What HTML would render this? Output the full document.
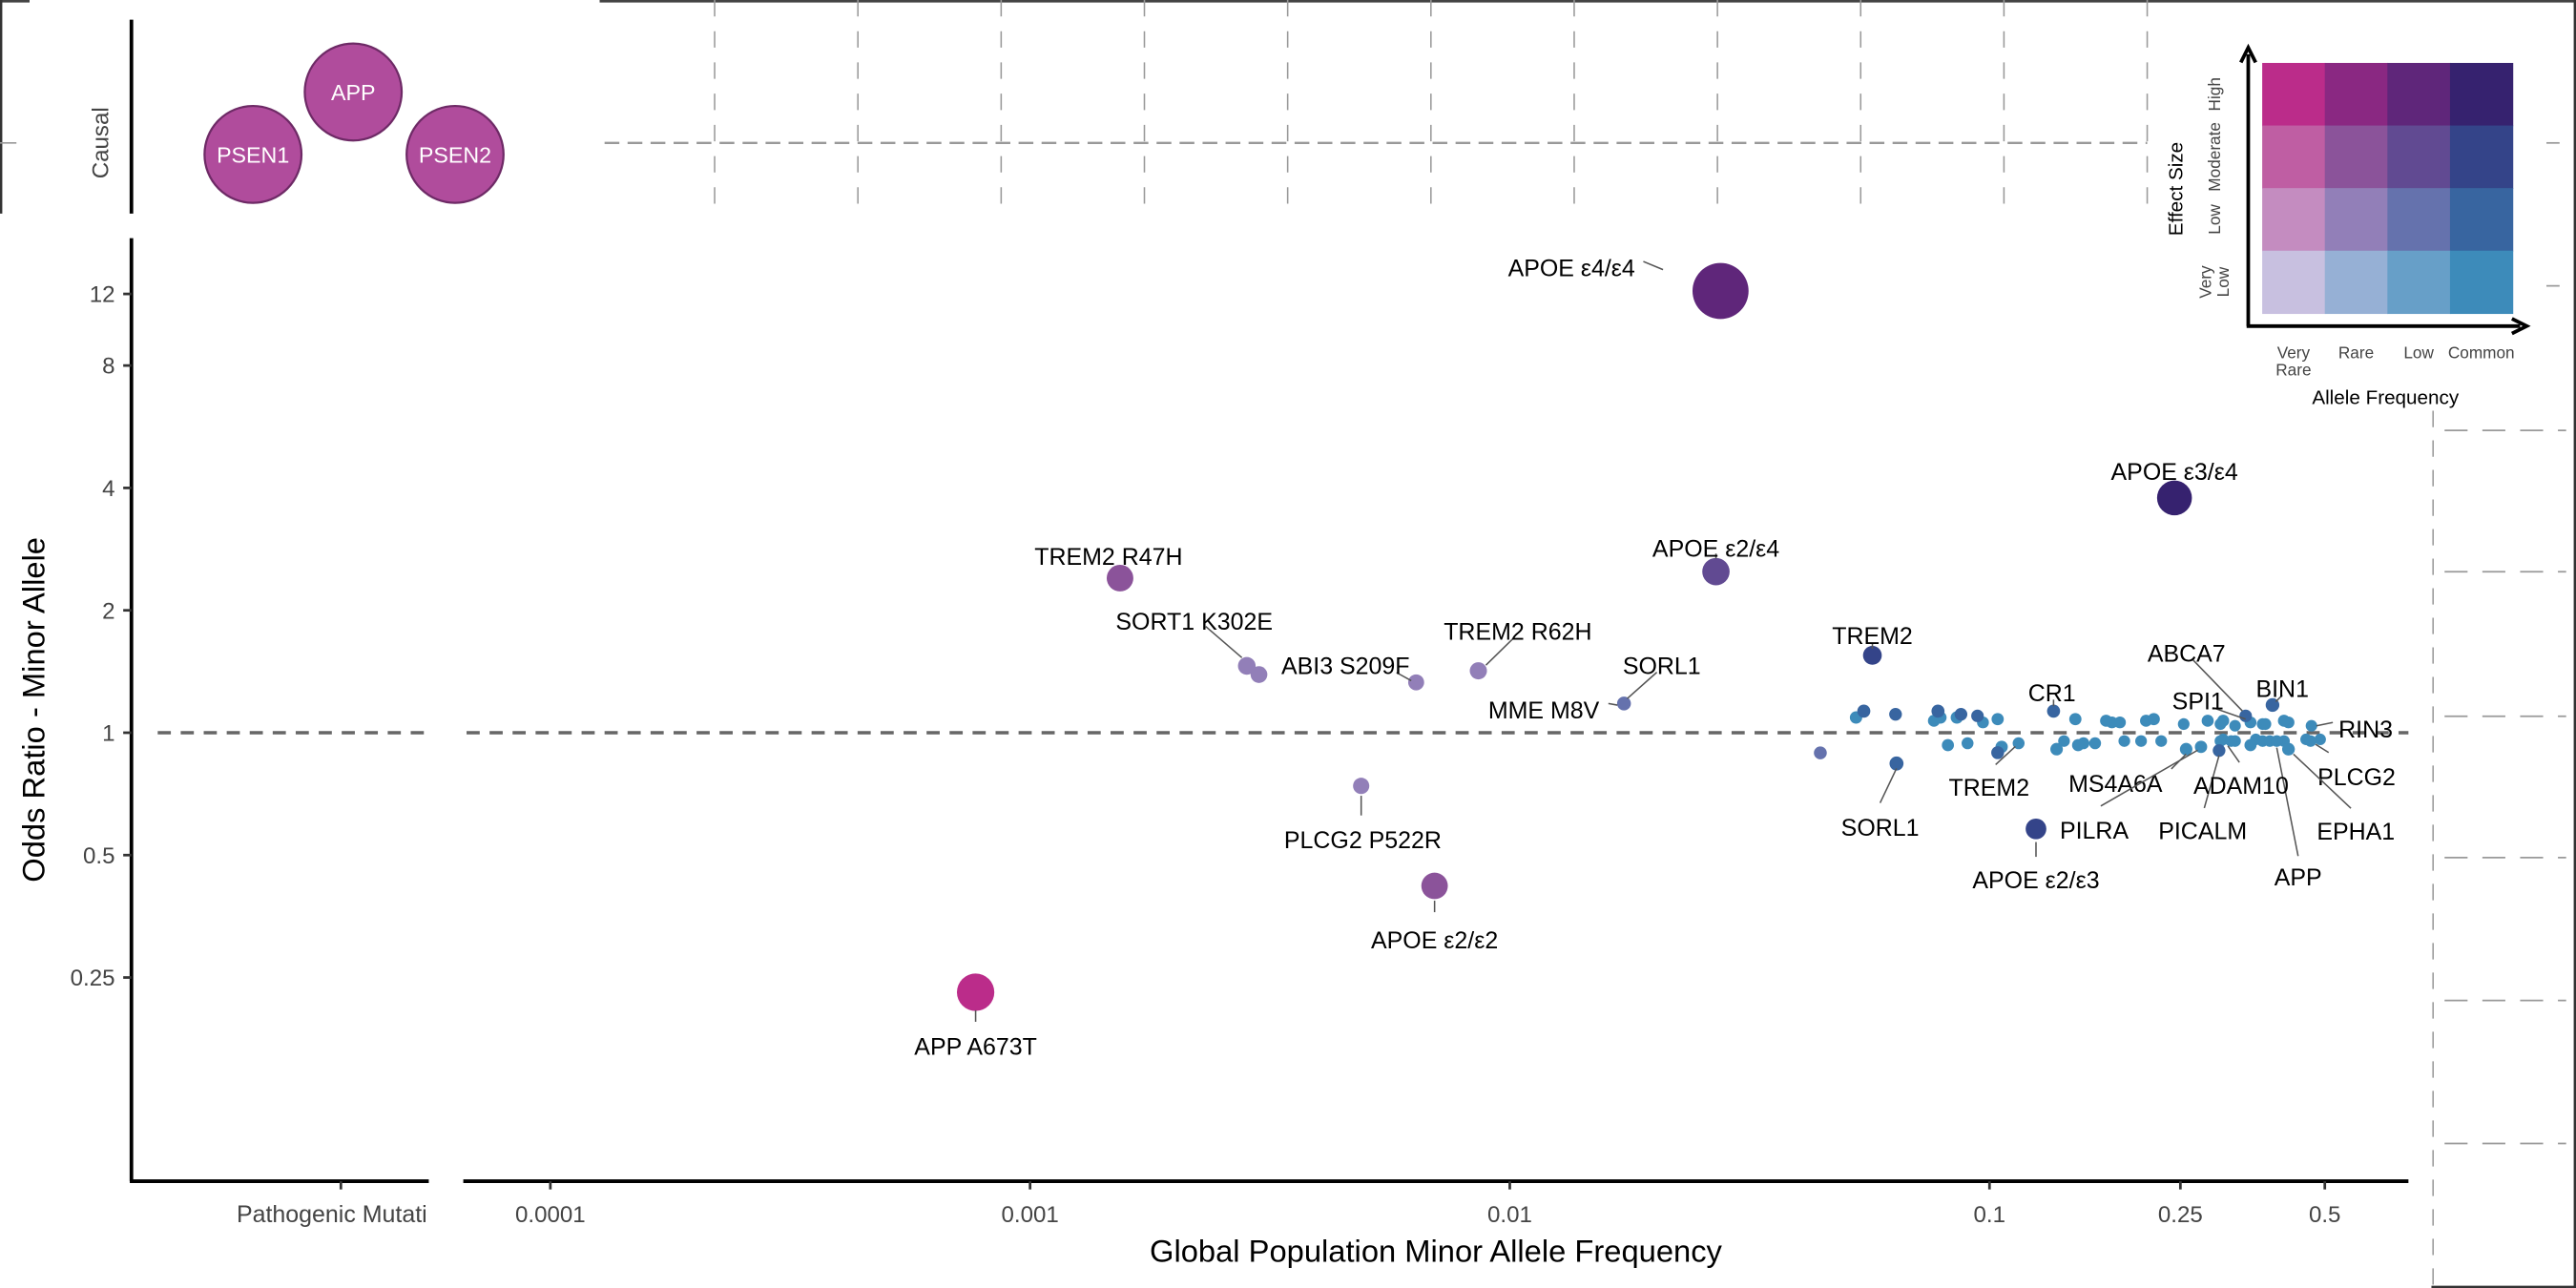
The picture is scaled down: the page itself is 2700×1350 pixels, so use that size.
<!DOCTYPE html>
<html><head><meta charset="utf-8"><style>
html,body{margin:0;padding:0;background:#fff;}
svg{display:block;}
text{font-family:"Liberation Sans",Arial,sans-serif;}
</style></head><body>
<svg id="chart" width="2700" height="1350" viewBox="0 0 1568 784" xmlns="http://www.w3.org/2000/svg">
<rect x="0" y="0" width="1568" height="784" fill="#fff"/>
<g id="frame" fill="none">
  <line x1="365" y1="0.7" x2="1568" y2="0.7" stroke="#444" stroke-width="1.6"/>
  <line x1="0" y1="0.7" x2="18" y2="0.7" stroke="#444" stroke-width="1.6"/>
  <line x1="0.7" y1="0" x2="0.7" y2="130" stroke="#333" stroke-width="1.4"/>
  <line x1="0" y1="87" x2="10" y2="87" stroke="#999" stroke-width="1"/>
  <line x1="1567.3" y1="0" x2="1567.3" y2="784" stroke="#333" stroke-width="1.4"/>
  <line x1="1480" y1="783.3" x2="1568" y2="783.3" stroke="#333" stroke-width="1.4"/>
  <line x1="1481" y1="250" x2="1481" y2="784" stroke="#999" stroke-width="0.9" stroke-dasharray="10,8"/>
  <line x1="1550" y1="87" x2="1558" y2="87" stroke="#999" stroke-width="1"/>
  <line x1="1550" y1="174" x2="1558" y2="174" stroke="#999" stroke-width="1"/>
</g>
<g id="topgrid"></g>
<g id="rightgrid"></g>

<g id="causal">
  <line x1="80" y1="12" x2="80" y2="130" stroke="#000" stroke-width="2.2"/>
  <text x="0" y="0" transform="translate(66,87) rotate(-90)" text-anchor="middle" font-size="14" fill="#444">Causal</text>
  <circle cx="154" cy="94" r="29.5" fill="#b04c9c" stroke="#6e2a66" stroke-width="1.3"/>
  <text x="154" y="99" text-anchor="middle" font-size="13.5" fill="#fff">PSEN1</text>
  <circle cx="215" cy="56" r="29.5" fill="#b04c9c" stroke="#6e2a66" stroke-width="1.3"/>
  <text x="215" y="61" text-anchor="middle" font-size="13.5" fill="#fff">APP</text>
  <circle cx="277" cy="94" r="29.5" fill="#b04c9c" stroke="#6e2a66" stroke-width="1.3"/>
  <text x="277" y="99" text-anchor="middle" font-size="13.5" fill="#fff">PSEN2</text>
</g>

<g id="axes"></g>
<g id="refline">
  <line x1="96" y1="446" x2="262" y2="446" stroke="#666" stroke-width="2" stroke-dasharray="8,6"/>
  <line x1="284" y1="446" x2="1466" y2="446" stroke="#666" stroke-width="2" stroke-dasharray="8,6"/>
</g>
<g id="marks"></g>
<g id="labels"></g>

<text x="0" y="0" transform="translate(27,432) rotate(-90)" text-anchor="middle" font-size="19" fill="#000">Odds Ratio - Minor Allele</text>
<text x="874" y="768" text-anchor="middle" font-size="19" fill="#000">Global Population Minor Allele Frequency</text>

<g id="legend"></g>

<script>
// ---------- data ----------
const tickFreqs = [0.0001, 0.001, 0.01, 0.1, 0.25, 0.5];
const tickFreqLabels = ["0.0001", "0.001", "0.01", "0.1", "0.25", "0.5"];
const tickOR = [0.25, 0.5, 1, 2, 4, 8, 12];
const tickORLabels = ["0.25", "0.5", "1", "2", "4", "8", "12"];

const pointIds = ["APOE e4/e4","APOE e3/e4","APOE e2/e4","TREM2 R47H","SORT1 K302E","SORT1 b","ABI3 S209F","TREM2 R62H","MME M8V","PLCG2 P522R","APOE e2/e2","APP A673T","TREM2","APOE e2/e3","SORL1",
 "c1","c2","c3","c4","c5","c6","c7","c8","c9","c10","c11","CR1","c13","c14","c15","c16","c17","c18","c19","c20","c21","c22","c23","ABCA7","SPI1","c26","c27","BIN1","c29","c30","RIN3",
 "c32","c33","c34","c35","TREM2b-pt","c37","TREM2b","c39","c40","c41","c42","c43","c44","c45","c46","MS4A6A","PILRA","PICALM","c50","c51","ADAM10","c53","c54","c55","c56","c57","APP","c59","EPHA1","c61","PLCG2pt","PLCG2-top"];
const freqs = [0.0275,0.243,0.0269,0.00154,0.00283,0.0030,0.00638,0.0086,0.0173,0.0049,0.00697,0.00077,0.057,0.125,0.064,
 0.0527,0.0547,0.0637,0.0766,0.0781,0.079,0.0855,0.0872,0.0944,0.0969,0.104,0.136,0.151,0.175,0.18,0.187,0.212,0.22,0.254,0.285,0.303,0.307,0.325,0.342,0.35,0.371,0.376,0.389,0.411,0.42,0.469,
 0.0444,0.0819,0.090,0.106,0.104,0.138,0.115,0.143,0.153,0.157,0.166,0.191,0.207,0.228,0.303,0.257,0.276,0.301,0.307,0.325,0.319,0.35,0.359,0.371,0.384,0.411,0.397,0.42,0.42,0.457,0.467,0.489];
const oddsRatios = [12.2,3.78,2.49,2.4,1.46,1.39,1.33,1.42,1.18,0.74,0.42,0.23,1.55,0.58,0.84,
 1.09,1.13,1.11,1.07,1.13,1.09,1.09,1.11,1.10,1.06,1.08,1.13,1.08,1.07,1.06,1.06,1.07,1.08,1.05,1.07,1.05,1.07,1.04,1.10,1.06,1.05,1.05,1.17,1.07,1.06,1.04,
 0.892,0.932,0.942,0.923,0.893,0.911,0.942,0.954,0.932,0.942,0.942,0.954,0.954,0.954,0.954,0.911,0.923,0.904,0.963,0.954,0.954,0.932,0.963,0.954,0.954,0.954,0.954,0.911,0.911,0.963,0.954,0.963];
// effect class 0=very low,1=low,2=moderate,3=high ; frequency class 0=very rare,1=rare,2=low,3=common
const effectClass = [3,3,2,2,1,1,1,1,1,1,2,3,2,2,1,
 0,1,1,0,1,0,0,1,1,0,0,1,0,0,0,0,0,0,0,0,0,0,0,1,0,0,0,1,0,0,0,
 1,0,0,0,1,0,0,0,0,0,0,0,0,0,0,0,0,1,0,0,0,0,0,0,0,0,0,0,0,0,0,0];
const freqClass = [2,3,2,1,1,1,1,1,2,1,1,0,3,3,3,
 3,3,3,3,3,3,3,3,3,3,3,3,3,3,3,3,3,3,3,3,3,3,3,3,3,3,3,3,3,3,3,
 2,3,3,3,3,3,3,3,3,3,3,3,3,3,3,3,3,3,3,3,3,3,3,3,3,3,3,3,3,3,3,3];

const legendRows = ["High","Moderate","Low","Very Low"];
const legendCols = ["Very Rare","Rare","Low","Common"];
const palette = [
 ["#c8c0e0","#96b0d5","#679fc8","#3d8bba"],
 ["#c48cc0","#927fb8","#6572ad","#3865a0"],
 ["#bf5ea3","#8b539a","#614a92","#344489"],
 ["#bb2c8a","#8a2882","#5f267a","#36226f"]
];

const labelDefs = [
 {p:"APOE e4/e4",t:"APOE ε4/ε4",dx:-52,dy:-14,a:"end",l:[-47,-18,-35,-13]},
 {p:"APOE e3/e4",t:"APOE ε3/ε4",dx:0,dy:-16,a:"middle",l:null},
 {p:"APOE e2/e4",t:"APOE ε2/ε4",dx:0,dy:-14,a:"middle",l:[0,-11,0,-8]},
 {p:"TREM2 R47H",t:"TREM2 R47H",dx:-7,dy:-13,a:"middle",l:null},
 {p:"SORT1 K302E",t:"SORT1 K302E",dx:-32,dy:-27,a:"middle",l:[-25,-24,-3,-5]},
 {p:"ABI3 S209F",t:"ABI3 S209F",dx:-43,dy:-10,a:"middle",l:[-12,-6,-3,-1]},
 {p:"TREM2 R62H",t:"TREM2 R62H",dx:24,dy:-24,a:"middle",l:[21.5,-20,4.6,-3.4]},
 {p:"MME M8V",t:"MME M8V",dx:-15,dy:4,a:"end",l:[-9.5,0,-4,1]},
 {p:"MME M8V",t:"SORL1",dx:23,dy:-23,a:"middle",l:[20,-19,2,-3]},
 {p:"PLCG2 P522R",t:"PLCG2 P522R",dx:1,dy:33,a:"middle",l:[0,6,0,18]},
 {p:"APOE e2/e2",t:"APOE ε2/ε2",dx:0,dy:33,a:"middle",l:[0,9,0,16]},
 {p:"APP A673T",t:"APP A673T",dx:0,dy:33,a:"middle",l:[0,11,0,18]},
 {p:"TREM2",t:"TREM2",dx:0,dy:-12,a:"middle",l:[0,-7,0,-4]},
 {p:"APOE e2/e3",t:"APOE ε2/ε3",dx:0,dy:31,a:"middle",l:[0,8,0,17]},
 {p:"SORL1",t:"SORL1",dx:-10,dy:39,a:"middle",l:[-10,24,0,3]},
 {p:"CR1",t:"CR1",dx:-1,dy:-11,a:"middle",l:[0,-7,0,-3]},
 {p:"ABCA7",t:"ABCA7",dx:-36,dy:-38,a:"middle",l:[-32,-34,-2,-3]},
 {p:"SPI1",t:"SPI1",dx:-32,dy:-13,a:"middle",l:[-23,-9,-3,-2]},
 {p:"BIN1",t:"BIN1",dx:6,dy:-10,a:"middle",l:[6,-6,2,-2]},
 {p:"RIN3",t:"RIN3",dx:33,dy:2,a:"middle",l:[13,-2,3,0]},
 {p:"PLCG2pt",t:"PLCG2",dx:28,dy:22,a:"middle",l:[11,7,3,2]},
 {p:"EPHA1",t:"EPHA1",dx:41,dy:50,a:"middle",l:[38,36,3,3]},
 {p:"APP",t:"APP",dx:13,dy:83,a:"middle",l:[13,70,0,4]},
 {p:"PICALM",t:"PICALM",dx:-10,dy:49,a:"middle",l:[-9,35,0,3]},
 {p:"ADAM10",t:"ADAM10",dx:6,dy:27,a:"middle",l:[5,13,-2,3]},
 {p:"MS4A6A",t:"MS4A6A",dx:-43,dy:21,a:"middle",l:[-9,12,0,3]},
 {p:"PILRA",t:"PILRA",dx:-65,dy:51,a:"middle",l:[-61,36,-2,2]},
 {p:"TREM2b",t:"TREM2",dx:-18,dy:27,a:"middle",l:[-14,13,-2,2]}
];

// ---------- scales ----------
const X = f => 1211 + 292 * (Math.log10(f) + 1);
const Y = o => 446 - 74.5 * Math.log2(o);
const R = o => 3.3 + 5.5 * Math.abs(Math.log(o));
const NS = "http://www.w3.org/2000/svg";
function mk(tag, attrs, parent){ const e=document.createElementNS(NS,tag); for(const k in attrs) e.setAttribute(k,attrs[k]); parent.appendChild(e); return e; }

// ---------- background grids ----------
const tg = document.getElementById("topgrid");
for (let k=0;k<11;k++){
  const x = 435 + 87.2*k;
  const ln = mk("line",{x1:x,y1:0,x2:x,y2:130,stroke:"#999","stroke-width":0.9,"stroke-dasharray":"10,9"},tg);
  
  
}
const th = mk("line",{x1:368,y1:87,x2:1307,y2:87,stroke:"#999","stroke-width":1.4,"stroke-dasharray":"9,5"},tg);


const rg = document.getElementById("rightgrid");
[262,348,436,522,609,696].forEach(y=>{
  const ln = mk("line",{x1:1488,y1:y,x2:1562,y2:y,stroke:"#999","stroke-width":1,"stroke-dasharray":"14,9"},rg);
  
  
});

// ---------- axes ----------
const ax = document.getElementById("axes");
const yl = mk("line",{x1:80,y1:145,x2:80,y2:719,stroke:"#000","stroke-width":2.2},ax);


const xl1 = mk("line",{x1:79,y1:719,x2:261,y2:719,stroke:"#000","stroke-width":2.2},ax);


const xl2 = mk("line",{x1:282,y1:719,x2:1466,y2:719,stroke:"#000","stroke-width":2.2},ax);


const pt = mk("line",{x1:207.5,y1:719,x2:207.5,y2:724,stroke:"#333","stroke-width":1.6},ax);


const ptl = mk("text",{x:260,y:744,"text-anchor":"end","font-size":14.5,fill:"#444"},ax);
ptl.textContent = "Pathogenic Mutati";


tickFreqs.forEach((f,i)=>{
  const x = X(f);
  const t = mk("line",{x1:x,y1:719,x2:x,y2:724,stroke:"#333","stroke-width":1.6},ax);
  
  
  const lb = mk("text",{x:x,y:744,"text-anchor":"middle","font-size":14,fill:"#444"},ax);
  lb.textContent = tickFreqLabels[i];
  
  
});
tickOR.forEach((o,i)=>{
  const y = Y(o);
  const t = mk("line",{x1:75,y1:y,x2:80,y2:y,stroke:"#333","stroke-width":1.6},ax);
  
  
  const lb = mk("text",{x:70,y:y+5,"text-anchor":"end","font-size":14,fill:"#444"},ax);
  lb.textContent = tickORLabels[i];
  
  
});

// ---------- points ----------
const mg = document.getElementById("marks");
const order = freqs.map((_,i)=>i).sort((a,b)=>R(oddsRatios[a])-R(oddsRatios[b]));
order.forEach(i=>{
  const c = mk("circle",{cx:X(freqs[i]),cy:Y(oddsRatios[i]),r:R(oddsRatios[i]),fill:palette[effectClass[i]][freqClass[i]]},mg);
  
  
});

// ---------- labels ----------
const lg = document.getElementById("labels");
labelDefs.forEach(d=>{
  const i = pointIds.indexOf(d.p);
  if (i<0) return;
  const px = X(freqs[i]), py = Y(oddsRatios[i]);
  if (d.l){
    const ln = mk("line",{x1:px+d.l[0],y1:py+d.l[1],x2:px+d.l[2],y2:py+d.l[3],stroke:"#555","stroke-width":0.9},lg);
    
    
  }
  const t = mk("text",{x:px+d.dx,y:py+d.dy+5,"text-anchor":d.a,"font-size":14.5,fill:"#000"},lg);
  t.textContent = d.t;
  
  
});

// ---------- legend ----------
const lgd = document.getElementById("legend");
const gx0 = 1377, gy0 = 38.3, cs = 38.1;
for (let r=0;r<4;r++){
  for (let c=0;c<4;c++){
    const eff = 3 - r;
    const cell = mk("rect",{x:gx0+c*cs,y:gy0+r*cs,width:cs+0.4,height:cs+0.4,fill:palette[eff][c]},lgd);
    
    
  }
}
const va = mk("line",{x1:1368.5,y1:198.5,x2:1368.5,y2:33,stroke:"#000","stroke-width":2.2},lgd);


const vah = mk("path",{d:"M1364,38 L1368.5,29 L1373,38",fill:"none",stroke:"#000","stroke-width":2.2},lgd);


const ha = mk("line",{x1:1367.5,y1:198.5,x2:1534,y2:198.5,stroke:"#000","stroke-width":2.2},lgd);


const hah = mk("path",{d:"M1529,194 L1538,198.5 L1529,203",fill:"none",stroke:"#000","stroke-width":2.2},lgd);


legendCols.forEach((s,c)=>{
  const cx = gx0 + cs*(c+0.5);
  const parts = s.split(" ");
  parts.forEach((p,k)=>{
    const t = mk("text",{x:cx,y:218+k*10.5,"text-anchor":"middle","font-size":10,fill:"#444"},lgd);
    t.textContent = p;
    
    
  });
});
legendRows.forEach((s,r)=>{
  const cy = gy0 + cs*(r+0.5);
  const parts = s.split(" ");
  parts.forEach((p,k)=>{
    const xx = parts.length>1 ? 1346 + k*10.5 : 1351.5;
    const t = mk("text",{x:0,y:0,transform:`translate(${xx},${cy}) rotate(-90)`,"text-anchor":"middle","font-size":10,fill:"#444"},lgd);
    t.textContent = p;
    
    
  });
});
const lxt = mk("text",{x:1452,y:246,"text-anchor":"middle","font-size":12,fill:"#000"},lgd);
lxt.textContent = "Allele Frequency";


const lyt = mk("text",{x:0,y:0,transform:"translate(1328.5,115) rotate(-90)","text-anchor":"middle","font-size":12,fill:"#000"},lgd);
lyt.textContent = "Effect Size";


</script>
</svg>
</body></html>
